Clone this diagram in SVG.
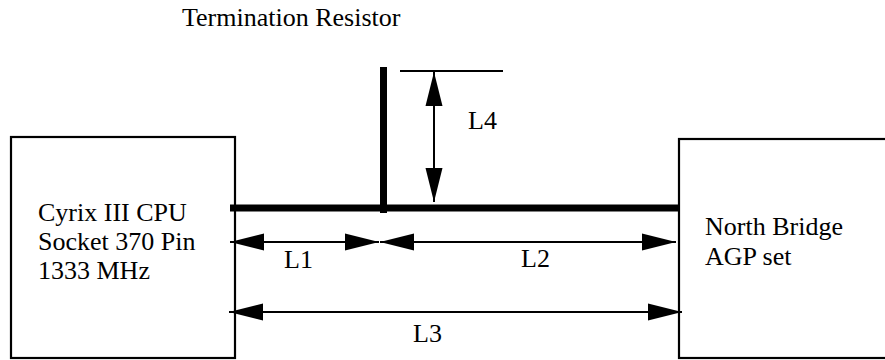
<svg xmlns="http://www.w3.org/2000/svg" width="885" height="360" viewBox="0 0 885 360">
<style>
.t{font-family:"Liberation Serif","Times New Roman",serif;font-size:26px;fill:#000}
.box{fill:#fff;stroke:#000;stroke-width:2.2}
.bus{stroke:#000;stroke-width:7;fill:none}
.dim{stroke:#000;stroke-width:2;fill:none;marker-start:url(#ah);marker-end:url(#ah)}
</style>
<defs>
<marker id="ah" viewBox="0 0 34 18" markerWidth="34" markerHeight="18" refX="34" refY="9" orient="auto-start-reverse" markerUnits="userSpaceOnUse">
<path d="M0,0.5 L34,9 L0,17.5 z" fill="#000"/>
</marker>
</defs>
<rect width="885" height="360" fill="#fff"/>
<g id="cpu">
<rect class="box" x="11" y="137" width="224" height="221"/>
<text class="t" x="38" y="221">Cyrix III CPU</text>
<text class="t" x="38" y="250">Socket 370 Pin</text>
<text class="t" x="38" y="279">1333 MHz</text>
</g>
<g id="northbridge">
<rect class="box" x="679" y="139" width="220" height="219"/>
<text class="t" x="705" y="235">North Bridge</text>
<text class="t" x="705" y="265">AGP set</text>
</g>
<g id="termination">
<text class="t" x="182" y="26">Termination Resistor</text>
</g>
<g id="connectors">
<line class="bus" x1="230" y1="208" x2="680" y2="208"/>
<line class="bus" x1="383.5" y1="67" x2="383.5" y2="213"/>
<line x1="400" y1="71" x2="503" y2="71" stroke="#000" stroke-width="2"/>
<line class="dim" x1="434" y1="72" x2="434" y2="202"/>
<line class="dim" x1="230" y1="242" x2="379" y2="242"/>
<line class="dim" x1="380" y1="242" x2="676" y2="242"/>
<line class="dim" x1="229" y1="312" x2="682" y2="312"/>
</g>
<g id="labels">
<text class="t" x="468" y="129">L4</text>
<text class="t" x="284" y="268">L1</text>
<text class="t" x="521" y="267">L2</text>
<text class="t" x="413" y="342">L3</text>
</g>
</svg>
